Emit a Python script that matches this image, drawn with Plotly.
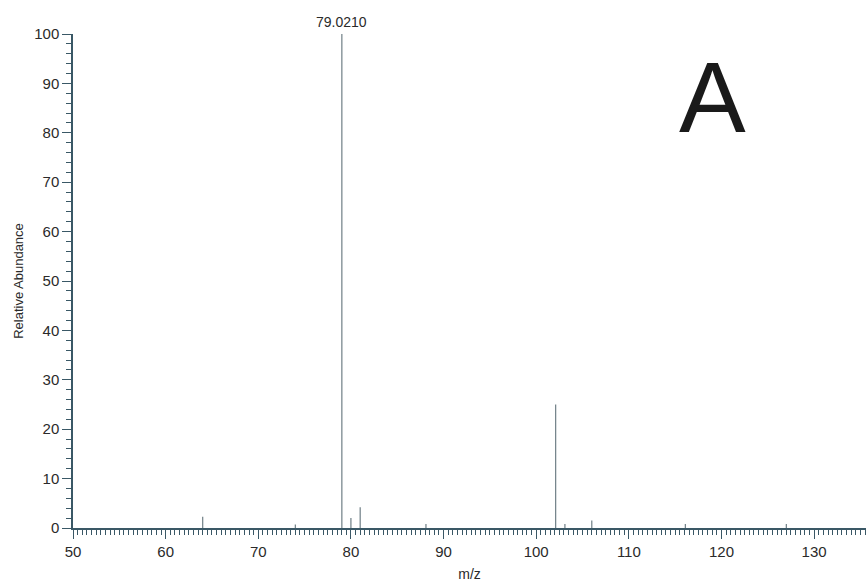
import plotly.graph_objects as go

mz = [64.0, 74.0, 79.021, 80.0, 81.0, 88.1, 102.1, 103.1, 106.0, 116.1, 127.0]
abundance = [2.3, 0.7, 100.0, 2.0, 4.2, 0.8, 25.0, 0.8, 1.5, 0.8, 0.8]
base_peak_label = "79.0210"
x_ticks = [50, 60, 70, 80, 90, 100, 110, 120, 130]
y_ticks = [0, 10, 20, 30, 40, 50, 60, 70, 80, 90, 100]

xs, ys = [], []
for m, a in zip(mz, abundance):
    xs += [m, m, None]
    ys += [0, a, None]

axis_col = "#3a5866"
fig = go.Figure()
fig.add_trace(go.Scatter(x=xs, y=ys, mode="lines",
                         line=dict(color="#6f7f86", width=1.2),
                         hoverinfo="skip", showlegend=False))

fig.add_annotation(x=mz[2], y=abundance[2], text=base_peak_label, showarrow=False,
                   yanchor="bottom", yshift=2,
                   font=dict(family="Liberation Sans, Arial", size=14, color="#2a2a2a"))
fig.add_annotation(x=0.806, y=0.99, xref="paper", yref="paper", text="A",
                   showarrow=False, xanchor="center", yanchor="top",
                   font=dict(family="Liberation Sans, Arial", size=100, color="#1a1a1a"))

fig.update_layout(
    width=866, height=586,
    margin=dict(l=73, r=0, t=34, b=58),
    paper_bgcolor="white", plot_bgcolor="white",
    font=dict(family="Liberation Sans, Arial", size=14, color="#2a2a2a"),
    xaxis=dict(range=[50, 135.6], tickvals=x_ticks, ticks="outside", ticklen=9,
               tickcolor=axis_col, tickwidth=1.2,
               showline=True, linecolor=axis_col, linewidth=1.5,
               showgrid=False, zeroline=False,
               minor=dict(dtick=0.5, tick0=50, ticks="outside", ticklen=5,
                          tickcolor=axis_col, showgrid=False),
               title=dict(text="m/z", font=dict(size=14), standoff=10),
               tickfont=dict(size=15)),
    yaxis=dict(range=[0, 100], tickvals=y_ticks, ticks="outside", ticklen=9,
               tickcolor=axis_col, tickwidth=1.2,
               showline=True, linecolor=axis_col, linewidth=1.5,
               showgrid=False, zeroline=False,
               minor=dict(dtick=2, tick0=0, ticks="outside", ticklen=5,
                          tickcolor=axis_col, showgrid=False),
               title=dict(text="Relative Abundance", font=dict(size=13), standoff=8),
               tickfont=dict(size=15)),
)
fig.write_html("out.html")
